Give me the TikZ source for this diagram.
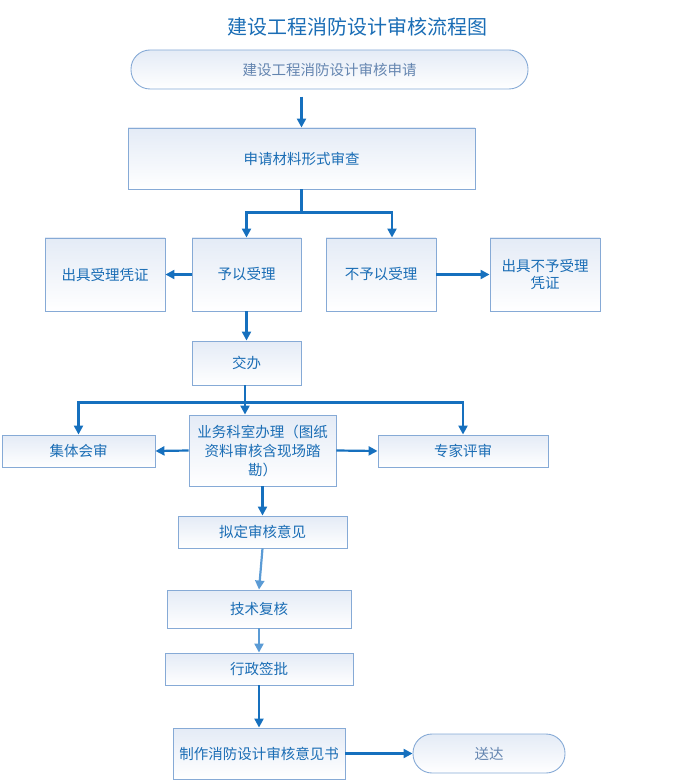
\documentclass[tikz,border=0pt]{standalone}
\usepackage{fontspec}
\setmainfont{Noto Sans CJK SC}
\usetikzlibrary{arrows.meta}
\definecolor{txtblue}{HTML}{1A6DB5}
\definecolor{termtxt}{HTML}{6485B0}
\definecolor{bordr}{HTML}{86AAD6}
\definecolor{arrdark}{HTML}{1670BE}
\definecolor{arrlight}{HTML}{5B9BD5}
\definecolor{filltop}{HTML}{E4EBF6}
\tikzset{
  x=1pt, y=-1pt,
  box/.style={draw=bordr, line width=0.9pt, top color=filltop, bottom color=white,
    text=txtblue, font=\fontsize{14.5}{17}\selectfont, inner sep=2pt, align=center},
  term/.style={box, rounded corners=19pt, text=termtxt},
  arr/.style={draw=arrdark, line width=2.2pt, -{Triangle[length=9pt,width=9pt]}},
  arrl/.style={draw=arrlight, line width=2.2pt, -{Triangle[length=9pt,width=9pt]}},
  ln/.style={draw=arrdark, line width=2.2pt},
}
\begin{document}
\begin{tikzpicture}
\useasboundingbox (0,0) rectangle (677,783);
\node[text=txtblue, font=\fontsize{20}{23}\selectfont] (title) at (357,27) {建设工程消防设计审核流程图};
\node[term, minimum width=397pt, minimum height=39pt] (start) at (329.5,69.5) {建设工程消防设计审核申请};
\node[box, minimum width=347pt, minimum height=61pt] (shq) at (301.5,158.5) {申请材料形式审查};
\node[box, minimum width=109pt, minimum height=73pt] (ysl) at (246.5,274.5) {予以受理};
\node[box, minimum width=120pt, minimum height=73pt] (csl) at (105,274.5) {出具受理凭证};
\node[box, minimum width=110pt, minimum height=73pt] (bsl) at (381,274.5) {不予以受理};
\node[box, minimum width=110pt, minimum height=73pt, text width=100pt] (cbsl) at (545,274.5) {出具不予受理\\凭证};
\node[box, minimum width=109pt, minimum height=44pt] (jb) at (246.5,363) {交办};
\node[box, minimum width=147pt, minimum height=71pt, text width=140pt, font=\fontsize{14.5}{19}\selectfont] (yw) at (262.5,450.5) {业务科室办理（图纸\\资料审核含现场踏\\勘）};
\node[box, minimum width=153pt, minimum height=32pt] (jt) at (78.5,451) {集体会审};
\node[box, minimum width=170pt, minimum height=32pt] (zj) at (463,451) {专家评审};
\node[box, minimum width=169pt, minimum height=32pt] (nd) at (262.5,532) {拟定审核意见};
\node[box, minimum width=184pt, minimum height=38pt] (js) at (259,609) {技术复核};
\node[box, minimum width=188pt, minimum height=32pt] (xz) at (259,669) {行政签批};
\node[box, minimum width=172pt, minimum height=51pt] (zz) at (259,753.5) {制作消防设计审核意见书};
\node[term, minimum width=152pt, minimum height=39pt] (sd) at (489,753.5) {送达};

\draw[arr] ([yshift=31pt]shq.north) -- (shq.north);
\draw[ln] (shq.south) -- ([yshift=-23pt]shq.south) coordinate (b1);
\draw[arr] (b1) -| (ysl.north);
\draw[arr] (b1) -| ([xshift=11pt]bsl.north);
\draw[arr] (ysl.west) -- (csl.east);
\draw[arr] (bsl.east) -- (cbsl.west);
\draw[arr] (ysl.south) -- (jb.north);
\draw[arr] ([xshift=-1.5pt]jb.south) -- ([xshift=-1.5pt]jb.south |- yw.north);
\path ([xshift=-1.5pt]jb.south) ++(0,17) coordinate (b2);
\draw[arr] (b2) -| (jt.north);
\draw[arr] (b2) -| (zj.north);
\draw[arr] (yw.west) -- (jt.east);
\draw[arr] (yw.east) -- (zj.west);
\draw[arr] (yw.south) -- (nd.north);
\draw[arrl] (nd.south) -- (js.north);
\draw[arrl] (js.south) -- (xz.north);
\draw[arr] (xz.south) -- (zz.north);
\draw[arr] (zz.east) -- (sd.west);
\end{tikzpicture}
\end{document}
